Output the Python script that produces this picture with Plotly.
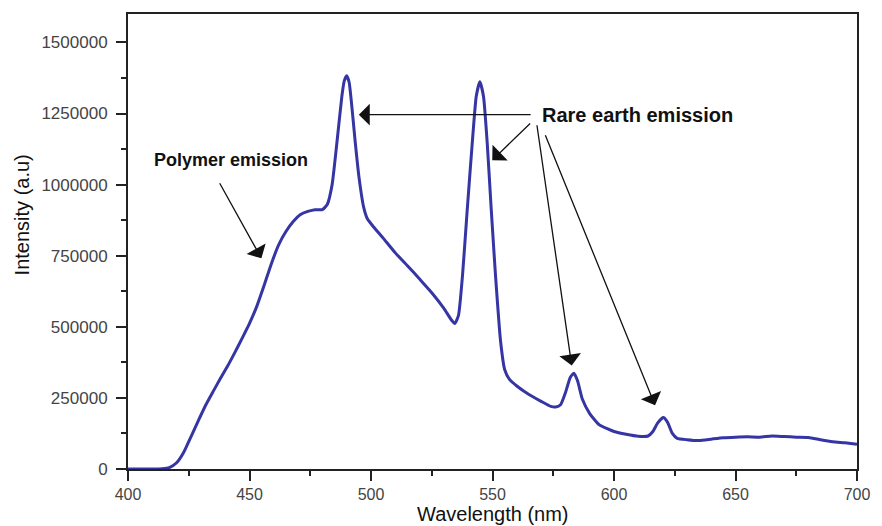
import plotly.graph_objects as go

# Photoluminescence spectrum: polymer band plus rare-earth lines
wavelength = [400, 405, 410, 414, 417, 420, 423, 426, 429, 432, 435, 438, 441, 444,
              447, 450, 453, 456, 459, 462, 465, 468, 471, 474, 477, 480, 482, 484,
              486, 488, 489, 490, 491, 492, 493.5, 495, 497, 498.5, 501, 505, 510,
              515, 520, 525, 530, 533, 534.5, 536, 537.7, 539.5, 541.7, 543.3, 544.8,
              546.3, 547.8, 549.5, 551.2, 553.3, 555, 557, 560, 565, 570, 574, 576,
              578, 580, 582, 583.5, 585, 587, 590, 594, 600, 605, 610, 614, 616, 618,
              620.3, 622, 624, 626, 630, 635, 640, 645, 650, 655, 660, 665, 670, 675,
              680, 685, 690, 695, 700]
intensity = [0, 0, 0, 1000, 5000, 22000, 60000, 115000, 171000, 225000, 272000, 318000,
             362000, 410000, 460000, 512000, 572000, 645000, 722000, 788000, 835000,
             870000, 895000, 906000, 912000, 912000, 930000, 1000000, 1150000, 1310000,
             1365000, 1383000, 1360000, 1285000, 1150000, 1030000, 920000, 880000,
             852000, 812000, 760000, 715000, 668000, 620000, 565000, 525000, 512000,
             540000, 685000, 900000, 1150000, 1310000, 1362000, 1310000, 1150000,
             910000, 685000, 451000, 350000, 315000, 292000, 262000, 238000, 220000,
             218000, 226000, 268000, 322000, 337000, 310000, 245000, 195000, 155000,
             132000, 122000, 115000, 116000, 132000, 162000, 181000, 165000, 125000,
             108000, 103000, 100000, 105000, 110000, 112000, 113000, 112000, 116000,
             114000, 112000, 111000, 103000, 96000, 92000, 87000]

y_ticks = [0, 250000, 500000, 750000, 1000000, 1250000, 1500000]
y_labels = ["0", "250000", "500000", "750000", "1000000", "1250000", "1500000"]
x_ticks = [400, 450, 500, 550, 600, 650, 700]

# Callout labels (anchor in data units) and their arrows: (tail_x, tail_y, head_x, head_y)
polymer_label = ("Polymer emission", 442.3, 1087000)
polymer_arrow = (437.4, 1010000, 454.9, 741000)
rare_label = ("Rare earth emission", 609.8, 1245000)
rare_arrows = [
    (566.3, 1246000, 495.0, 1246000),
    (566.1, 1220000, 549.9, 1086000),
    (568.2, 1214000, 582.6, 364000),
    (571.5, 1179000, 616.9, 224000),
]

FONT = "Arial, 'Liberation Sans', sans-serif"
AXIS_COLOR = "#222222"
TICK_COLOR = "#444444"

fig = go.Figure()
fig.add_trace(go.Scatter(
    x=wavelength, y=intensity, mode="lines",
    line=dict(color="#3535a4", width=3, shape="spline", smoothing=0.5),
    showlegend=False, hoverinfo="skip",
))

annotations = []
for tx, ty, hx, hy in [polymer_arrow] + rare_arrows:
    annotations.append(dict(
        x=hx, y=hy, ax=tx, ay=ty, xref="x", yref="y", axref="x", ayref="y",
        text="", showarrow=True, arrowhead=1, arrowsize=2.8, arrowwidth=1.3,
        arrowcolor="#111111", standoff=0, startstandoff=0,
    ))
for text, lx, ly, size in [(polymer_label[0], polymer_label[1], polymer_label[2], 18),
                           (rare_label[0], rare_label[1], rare_label[2], 20)]:
    annotations.append(dict(
        x=lx, y=ly, xref="x", yref="y", text="<b>%s</b>" % text, showarrow=False,
        xanchor="center", yanchor="middle",
        font=dict(family=FONT, size=size, color="#111111"),
    ))
# axis titles
annotations.append(dict(
    x=0.5, y=-0.071, xref="paper", yref="paper", text="Wavelength (nm)",
    showarrow=False, xanchor="center", yanchor="top",
    font=dict(family=FONT, size=20, color="#111111"),
))
annotations.append(dict(
    x=-0.145, y=0.558, xref="paper", yref="paper", text="Intensity (a.u)",
    showarrow=False, xanchor="center", yanchor="middle", textangle=-90,
    font=dict(family=FONT, size=20, color="#111111"),
))

fig.update_layout(
    width=882, height=526,
    margin=dict(l=128, r=16, t=12, b=57),
    paper_bgcolor="white", plot_bgcolor="white",
    annotations=annotations,
)
fig.update_xaxes(
    range=[400, 700], tickvals=x_ticks, ticks="outside", ticklen=10, tickwidth=1.5,
    tickcolor=AXIS_COLOR, showline=True, linecolor=AXIS_COLOR, linewidth=2,
    mirror=True, showgrid=False, zeroline=False,
    tickfont=dict(family=FONT, size=16, color=TICK_COLOR), ticklabelstandoff=0,
    minor=dict(dtick=25, ticks="outside", ticklen=5, tickwidth=1.5, tickcolor=AXIS_COLOR,
               showgrid=False),
)
fig.update_yaxes(
    range=[0, 1600000], tickvals=y_ticks, ticktext=y_labels, ticks="outside",
    ticklen=10, tickwidth=1.5, tickcolor=AXIS_COLOR, showline=True,
    linecolor=AXIS_COLOR, linewidth=2, mirror=True, showgrid=False, zeroline=False,
    tickfont=dict(family=FONT, size=17, color=TICK_COLOR), ticklabelstandoff=5,
    minor=dict(dtick=125000, ticks="outside", ticklen=5, tickwidth=1.5,
               tickcolor=AXIS_COLOR, showgrid=False),
)

fig.write_html("out.html")
